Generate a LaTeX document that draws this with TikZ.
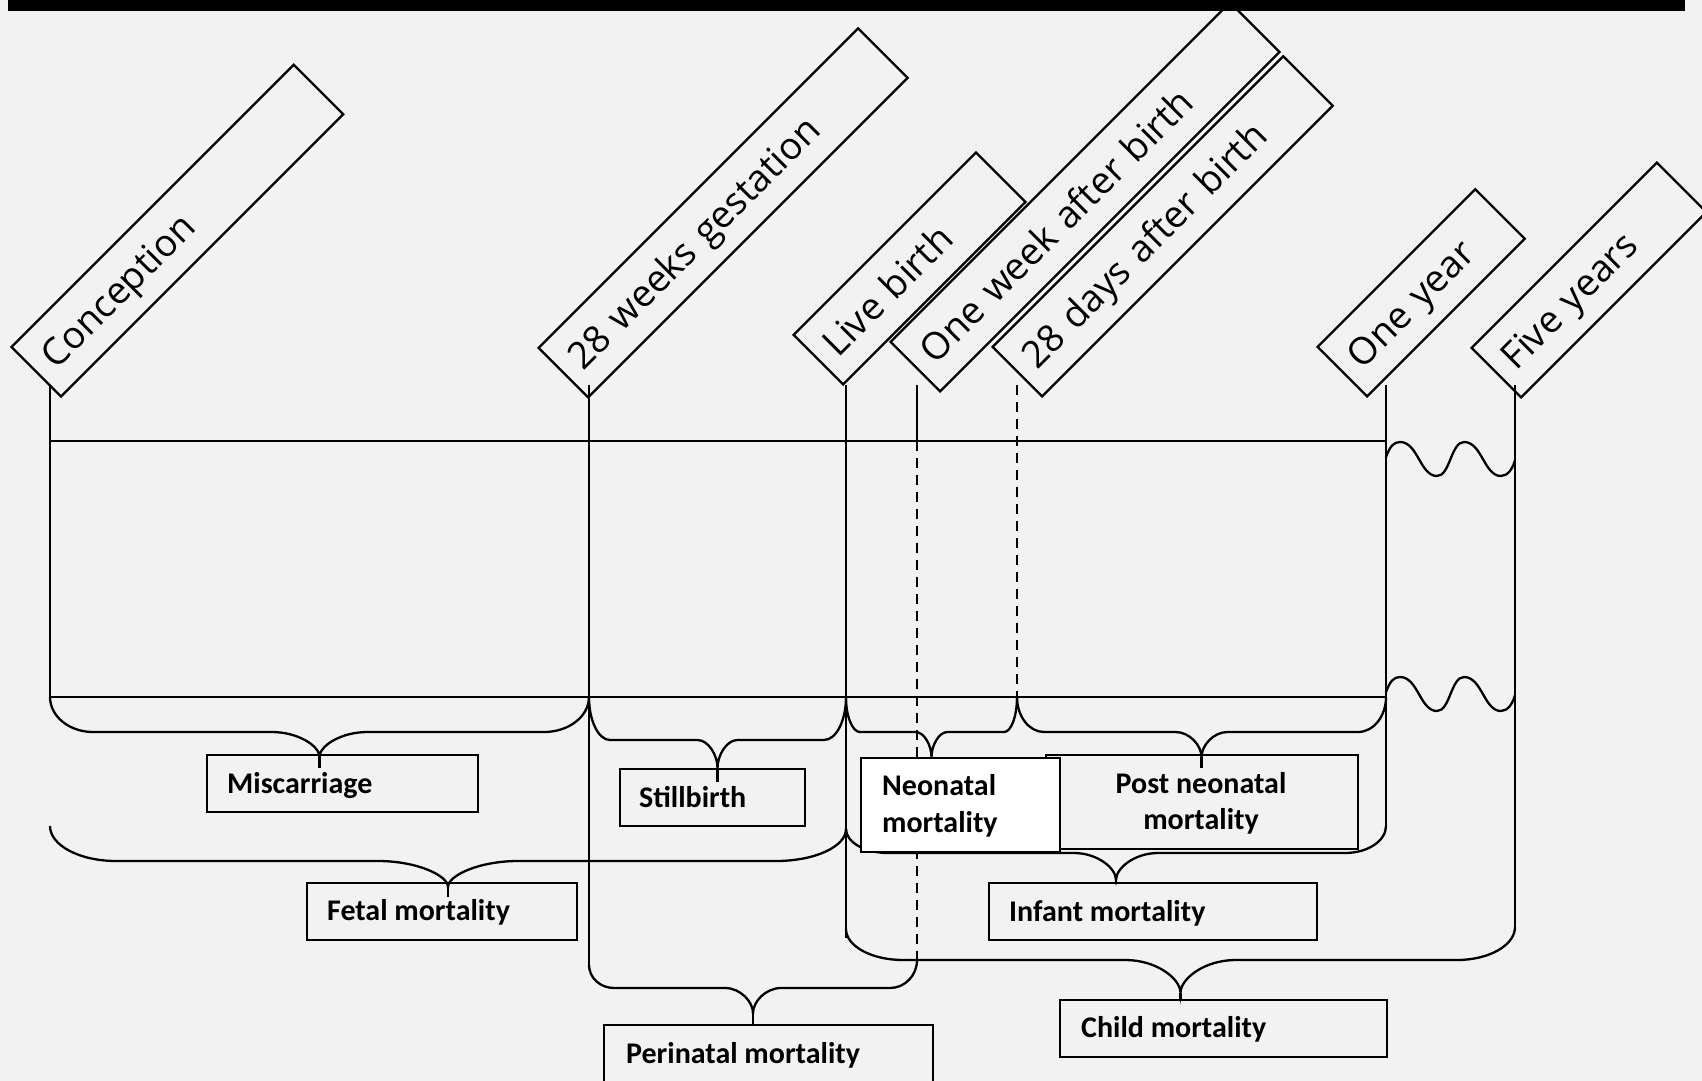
\documentclass[tikz,border=0pt]{standalone}
\usepackage{fontspec}
\newfontfamily\topfont{Open Sans}
\newfontfamily\lblfont{Carlito}
\definecolor{bg}{HTML}{F2F2F2}
\newcommand{\bracedraw}[9]{%
  \draw[brc] (#1,#2) .. controls (#1,{#2+0.552*(#5-#2)}) and ({#1+0.448*#6},#5) .. ({#1+#6},#5)
   -- ({(#1+#3)/2-#8},#5) .. controls ({(#1+#3)/2-0.448*#8},#5) and ({(#1+#3)/2},{#5+0.552*(#9-#5)}) .. ({(#1+#3)/2},#9)
   .. controls ({(#1+#3)/2},{#5+0.552*(#9-#5)}) and ({(#1+#3)/2+0.448*#8},#5) .. ({(#1+#3)/2+#8},#5)
   -- ({#3-#7},#5) .. controls ({#3-0.448*#7},#5) and (#3,{#4+0.552*(#5-#4)}) .. (#3,#4);}
\begin{document}
\begin{tikzpicture}[x=1pt,y=-1pt,line width=2.3pt,
  brc/.style={line width=2.3pt},
  dsh/.style={dash pattern=on 10pt off 7pt},
  toplbl/.style={draw, rotate=45, anchor=south west, minimum height=70pt,
    inner xsep=15pt, inner ysep=0pt, align=left,
    font=\topfont\fontsize{37.5}{45}\selectfont, text height=27pt, text depth=0pt},
  lbox/.style={draw, anchor=north west, inner sep=0pt},
  ltxt/.style={font=\lblfont\bfseries\fontsize{30}{37}\selectfont, inner sep=0pt, anchor=base west},
  ctxt/.style={font=\lblfont\bfseries\fontsize{30}{37}\selectfont, inner sep=0pt, anchor=base}]
\useasboundingbox (0,0) rectangle (1702,1081);
\fill[bg] (0,0) rectangle (1702,1081);

% vertical timeline markers
\coordinate (c0) at (50,385);   \coordinate (c1) at (50,697);
\coordinate (g0) at (589,385);  \coordinate (g1) at (589,965);
\coordinate (b0) at (846,385);  \coordinate (b1) at (846,938);
\coordinate (w0) at (917,385);  \coordinate (wm) at (917,441); \coordinate (w1) at (917,960);
\coordinate (d0) at (1017,385); \coordinate (d1) at (1017,697);
\coordinate (y0) at (1386,385); \coordinate (y1) at (1386,826);
\coordinate (f0) at (1515,385); \coordinate (f1) at (1515,927);
\draw (c0) -- (c1);
\draw (g0) -- (g1);
\draw (b0) -- (b1);
\draw (w0) -- (wm);
\draw[dsh] (wm) -- (w1);
\draw[dsh] (d0) -- (d1);
\draw (y0) -- (y1);
\draw (f0) -- (f1);

% horizontal lines
\coordinate (h0) at (50,441);  \coordinate (h1) at (1386,441);
\coordinate (k0) at (50,697);  \coordinate (k1) at (1386,697);
\draw (h0) -- (h1);
\draw (k0) -- (k1);

% waves
\draw (1386,457) .. controls (1390,446) and (1394,442) .. (1400,442)
  .. controls (1418,442) and (1420,476) .. (1437,476)
  .. controls (1450,476) and (1451,442) .. (1464,442)
  .. controls (1482,442) and (1484,476) .. (1501,476)
  .. controls (1508,476) and (1513,468) .. (1515,460);
\draw (1386,692) .. controls (1390,681) and (1394,677) .. (1400,677)
  .. controls (1418,677) and (1420,711) .. (1437,711)
  .. controls (1450,711) and (1451,677) .. (1464,677)
  .. controls (1482,677) and (1484,711) .. (1501,711)
  .. controls (1508,711) and (1513,703) .. (1515,695);

% braces
\bracedraw{50}{697}{589}{697}{732}{43}{45}{48}{757}
\draw (319.5,757) -- (319.5,768);
\bracedraw{589}{697}{846}{697}{740}{21}{22}{20}{768}
\draw (717.5,768) -- (717.5,782);
\bracedraw{846}{697}{1017}{697}{732}{14}{13}{16}{757}
\bracedraw{1017}{697}{1386}{697}{732}{27}{28}{26}{757}
\draw (1201.5,757) -- (1201.5,768);
\bracedraw{50}{826}{846}{829}{861}{66}{70}{70}{887}
\draw (448,887) -- (448,897);
\bracedraw{846}{829}{1386}{826}{853}{42}{41}{42}{880}
\bracedraw{846}{929}{1515}{927}{960}{57}{58}{55}{993}
\draw (1180.5,993) -- (1180.5,999);
\bracedraw{589}{965}{917}{960}{988}{25}{27}{28}{1013}
\draw (753,1013) -- (753,1024);

% top rotated labels
\node[toplbl, text width=369pt] (conc) at (61,398) {Conception};
\node[toplbl, text width=422pt] (gest) at (588,399) {28 weeks gestation};
\node[toplbl, text width=228pt] (live) at (843,386) {Live birth};
\node[toplbl, text width=450pt] (week) at (940,393) {One week after birth};
\node[toplbl, text width=381pt] (days) at (1042,398) {28 days after birth};
\node[toplbl, text width=193pt] (oney) at (1367,398) {One year};
\node[toplbl, text width=232pt] (fivey) at (1521,399) {Five years};

\fill[black] (8,0) rectangle (1685,11);

% bottom labels
\node[lbox, minimum width=271pt, minimum height=57pt] (misc) at (206,754) {};
\node[ltxt] (miscT) at (226,793) {Miscarriage};
\node[lbox, minimum width=270pt, minimum height=57pt] (fetal) at (306,882) {};
\node[ltxt] (fetalT) at (326,920) {Fetal mortality};
\node[lbox, minimum width=185pt, minimum height=57pt] (still) at (619,768) {};
\node[ltxt] (stillT) at (638,807) {Stillbirth};
\node[lbox, minimum width=329pt, minimum height=62pt] (peri) at (603,1024) {};
\node[ltxt] (periT) at (625,1063) {Perinatal mortality};
\node[lbox, minimum width=328pt, minimum height=57pt] (inf) at (988,882) {};
\node[ltxt] (infT) at (1008,921) {Infant mortality};
\node[lbox, minimum width=327pt, minimum height=57pt] (child) at (1059,999) {};
\node[ltxt] (childT) at (1080,1037) {Child mortality};
\node[lbox, minimum width=312pt, minimum height=94pt] (post) at (1045,754) {};
\node[ctxt] (postT1) at (1201,793) {Post neonatal};
\node[ctxt] (postT2) at (1201,829) {mortality};
\node[lbox, fill=white, minimum width=199pt, minimum height=94pt] (neo) at (860,757) {};
\node[ltxt] (neoT1) at (881,795) {Neonatal};
\node[ltxt] (neoT2) at (881,832) {mortality};
\end{tikzpicture}
\end{document}
